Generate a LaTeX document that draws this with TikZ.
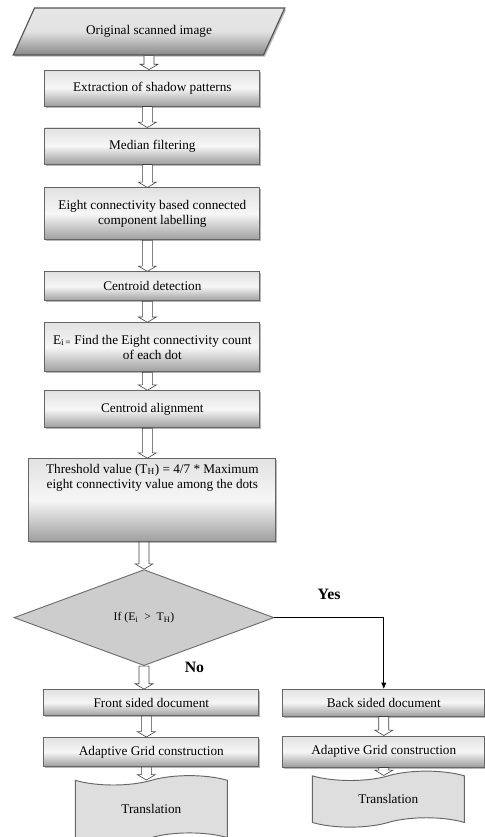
\documentclass[tikz,border=0pt]{standalone}
\usepackage{fontspec}
\setmainfont{Liberation Serif}
\usetikzlibrary{shapes.geometric, shapes.symbols, arrows.meta, positioning, calc, shadows}
\definecolor{boxdraw}{HTML}{666666}
\definecolor{boxtop}{HTML}{E2E2E2}
\definecolor{boxmid}{HTML}{F6F6F6}
\definecolor{boxbot}{HTML}{9E9E9E}
\definecolor{iodraw}{HTML}{555555}
\definecolor{iotop}{HTML}{E6E6E6}
\definecolor{iobot}{HTML}{888888}
\definecolor{decfill}{HTML}{CDCDCD}
\definecolor{decdraw}{HTML}{6E6E6E}
\definecolor{docfill}{HTML}{DEDEDE}
\definecolor{docdraw}{HTML}{666666}
\definecolor{shadowgray}{HTML}{9A9A9A}
\tikzset{
  blk/.style={rectangle, line width=0.8pt, draw=boxdraw, align=center, font=\fontsize{11.3}{13.3}\selectfont, inner sep=3pt, minimum width=6.45cm, top color=boxtop, bottom color=boxbot, middle color=boxmid, drop shadow={shadow xshift=1.3pt, shadow yshift=-1.3pt, fill=shadowgray, opacity=0.7}},
  iobox/.style={trapezium, trapezium left angle=58, trapezium right angle=122, trapezium stretches=true, line width=1pt, draw=iodraw, align=center, font=\fontsize{11.3}{13.3}\selectfont, minimum width=8.16cm, minimum height=1.41cm, top color=iotop, bottom color=iobot, middle color=boxtop, drop shadow={shadow xshift=1.3pt, shadow yshift=-1.3pt, fill=shadowgray, opacity=0.7}},
  decision/.style={diamond, aspect=2.7, draw=decdraw, fill=decfill, line width=0.8pt, align=center, font=\fontsize{10}{12}\selectfont, inner sep=0pt, minimum width=7.8cm, minimum height=2.88cm},
  doc/.style={tape, tape bend top=in and out, tape bend bottom=in and out, tape bend height=8pt, draw=docdraw, fill=docfill, line width=0.8pt, align=center, font=\fontsize{11.3}{13.3}\selectfont, minimum width=4.56cm},
  hollow/.style={draw=black!75, fill=white, line width=0.5pt, to path={
    ($(\tikztostart)+(-0.15cm,0)$) -- ($(\tikztotarget)+(-0.15cm,0.16cm)$) -- ($(\tikztotarget)+(-0.27cm,0.16cm)$) -- (\tikztotarget)
    -- ($(\tikztotarget)+(0.27cm,0.16cm)$) -- ($(\tikztotarget)+(0.15cm,0.16cm)$) -- ($(\tikztostart)+(0.15cm,0)$) -- cycle}},
  arr/.style={->, >={Triangle[length=5pt, width=4pt]}, line width=0.6pt, draw=black},
  lab/.style={font=\bfseries\fontsize{13.5}{15}\selectfont},
}
\begin{document}
\begin{tikzpicture}[node distance=0.6cm]
  \useasboundingbox (0,0) rectangle (14.55,-25.11);
  % main column
  \node[iobox] (orig) at (4.47,-0.945) {Original scanned image};
  \node[blk, below=0.42cm of orig, xshift=0.1cm, minimum height=1.08cm] (extr) {Extraction of shadow patterns};
  \node[blk, below=0.63cm of extr, minimum height=1.08cm] (median) {Median filtering};
  \node[blk, below=0.69cm of median, minimum height=1.56cm] (eight) {Eight connectivity based connected\\component labelling};
  \node[blk, below=0.93cm of eight, minimum height=0.87cm] (cdet) {Centroid detection};
  \node[blk, below=0.63cm of cdet, minimum height=1.47cm] (ecount) {E\textsubscript{i\,=} Find the Eight connectivity count\\of each dot};
  \node[blk, below=0.54cm of ecount, minimum height=1.11cm] (calign) {Centroid alignment};
  \node[blk, below=0.9cm of calign, minimum width=7.41cm, minimum height=2.49cm] (thresh)
    {\parbox[c][2.25cm][t]{7.2cm}{\centering\vspace*{1pt}Threshold value (T\textsubscript{H}) = 4/7 * Maximum\\eight connectivity value among the dots}};
  \node[decision, below=0.81cm of thresh, xshift=-0.25cm] (dec) {If (E\textsubscript{i} \ >\ \ T\textsubscript{H})};
  % two branches
  \node[blk, below=0.69cm of dec, xshift=0.22cm, minimum height=0.78cm] (front) {Front sided document};
  \node[blk, right=0.69cm of front, minimum width=6.06cm, minimum height=0.81cm] (back) {Back sided document};
  \node[blk, below=0.63cm of front, minimum height=0.87cm] (gridl) {Adaptive Grid construction};
  \node[blk, below=0.57cm of back, minimum width=6.06cm, minimum height=0.93cm] (gridr) {Adaptive Grid construction};
  \node[doc, below=0.39cm of gridl, minimum height=2.0cm] (transl) {Translation};
  \node[doc, below=0.24cm of gridr, xshift=0.135cm, minimum height=1.68cm] (transr) {Translation};
  % hollow arrows
  \draw[hollow] (orig.south) to (orig.south |- extr.north);
  \foreach \a/\b in {extr/median, median/eight, eight/cdet, cdet/ecount, ecount/calign, calign/thresh, front/gridl}
    \draw[hollow] ([xshift=-0.15cm]\a.south) to ([xshift=-0.15cm]\b.north);
  \draw[hollow] (thresh.south -| dec.north) to (dec.north);
  \draw[hollow] (dec.south) to (dec.south |- front.north);
  \draw[hollow] ([xshift=-0.15cm]gridl.south) to ([xshift=-0.15cm]gridl.south |- transl.north);
  \draw[hollow] (back.south) to (gridr.north);
  \draw[hollow] (gridr.south) to (gridr.south |- transr.north);
  % yes / no
  \draw[arr] (dec.east) -| node[pos=0.25, above=0.42cm, lab] {Yes} (back.north);
  \node[lab, anchor=west] (nolab) at ([xshift=1.1cm, yshift=-0.05cm]dec.south) {No};
\end{tikzpicture}
\end{document}
